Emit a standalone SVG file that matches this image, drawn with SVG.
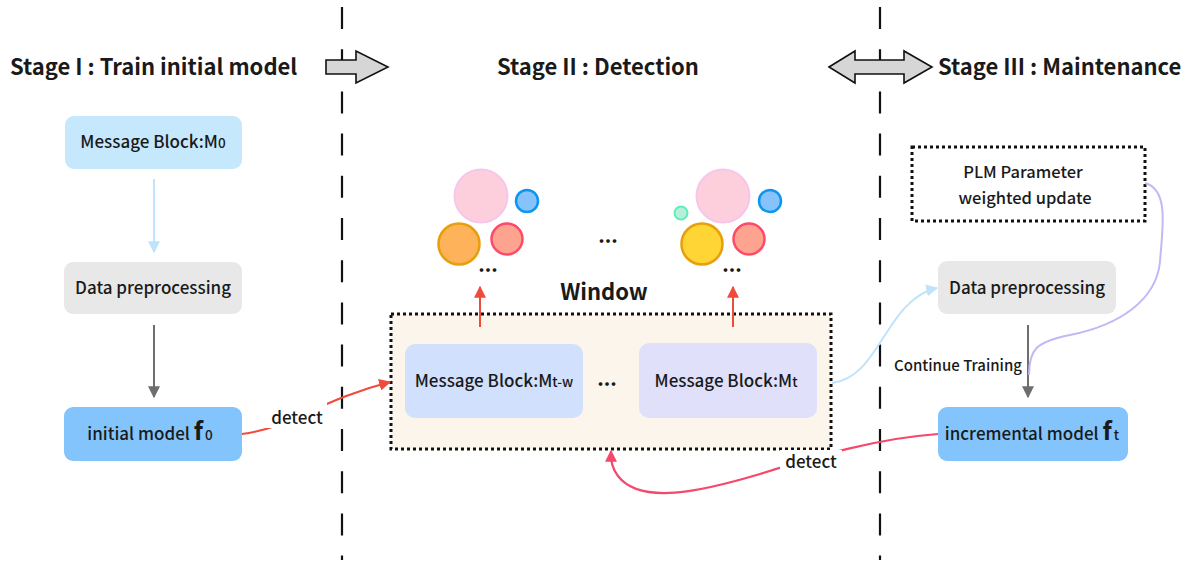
<svg xmlns="http://www.w3.org/2000/svg" width="1192" height="562" viewBox="0 0 1192 562">
<style>
text{font-family:"Noto Sans CJK SC","Noto Sans",sans-serif;fill:#1a1a1a}
.title{font-size:22px;font-weight:700}
.lbl{font-size:17px;font-weight:500}
.small{font-size:16.5px;font-weight:500}
.dots{font-size:20px;font-weight:700}
.sep{stroke:#111;stroke-width:2.2;stroke-dasharray:22 20.2;fill:none}
.dotbox{stroke:#111;stroke-width:3;stroke-dasharray:3 3;}
.bigarrow{fill:#d6d6d6;stroke:#111;stroke-width:1.6;stroke-linejoin:miter}
</style>
<defs>
<marker id="aRed" viewBox="0 0 10 10" refX="9" refY="5" markerWidth="12" markerHeight="12" markerUnits="userSpaceOnUse" orient="auto"><path d="M0,0 L10,5 L0,10 z" fill="#f04a3c"/></marker>
<marker id="aPink" viewBox="0 0 10 10" refX="9" refY="5" markerWidth="12" markerHeight="12" markerUnits="userSpaceOnUse" orient="auto"><path d="M0,0 L10,5 L0,10 z" fill="#f5486c"/></marker>
<marker id="aBlue" viewBox="0 0 10 10" refX="9" refY="5" markerWidth="12" markerHeight="12" markerUnits="userSpaceOnUse" orient="auto"><path d="M0,0 L10,5 L0,10 z" fill="#bfe3fb"/></marker>
<marker id="aGray" viewBox="0 0 10 10" refX="9" refY="5" markerWidth="12" markerHeight="13" markerUnits="userSpaceOnUse" orient="auto"><path d="M0,0 L10,5 L0,10 z" fill="#6e6e6e"/></marker>
</defs>
<rect width="1192" height="562" fill="#fff"/>

<!-- separators -->
<g id="separators">
<line class="sep" x1="342" y1="7" x2="342" y2="560"/>
<line class="sep" x1="880" y1="7" x2="880" y2="560"/>
</g>

<!-- stage arrows -->
<g id="stage-arrows">
<path class="bigarrow" d="M326,60 L356,60 L356,51 L388,67 L356,83 L356,74 L326,74 Z"/>
<path class="bigarrow" d="M829,67 L855,51 L855,60 L904,60 L904,51 L932,67 L904,83 L904,74 L855,74 L855,83 Z"/>
</g>

<!-- titles -->
<g id="titles">
<text class="title" x="10" y="75">Stage I : Train initial model</text>
<text class="title" x="598" y="75" text-anchor="middle">Stage II : Detection</text>
<text class="title" x="938" y="75">Stage III : Maintenance</text>
</g>

<!-- Stage I -->
<g id="node-m0">
<rect x="65" y="116" width="177" height="53" rx="9" fill="#c5e8fd"/>
<text class="lbl" x="153" y="148" text-anchor="middle">Message Block:M<tspan font-size="13.5">0</tspan></text>
</g>
<g id="node-prep1">
<rect x="64" y="262" width="178" height="52" rx="9" fill="#e8e8e8"/>
<text class="lbl" x="153" y="294" text-anchor="middle">Data preprocessing</text>
</g>
<g id="node-f0">
<rect x="64" y="407" width="178" height="54" rx="9" fill="#82c4fb"/>
<text class="lbl" x="150" y="440" text-anchor="middle">initial model <tspan font-size="25" font-weight="700">f</tspan><tspan font-size="13.5" dx="2">0</tspan></text>
</g>

<!-- Window -->
<g id="node-window">
<rect class="dotbox" x="391" y="314" width="440" height="135" fill="#fcf5ec"/>
<text class="title" x="604" y="300" text-anchor="middle">Window</text>
</g>
<g id="node-mtw">
<rect x="405" y="344" width="178" height="74" rx="10" fill="#d1e0fc"/>
<text class="lbl" x="494" y="387" text-anchor="middle">Message Block:M<tspan font-size="13.5">t-w</tspan></text>
</g>
<text class="dots" x="607" y="386" text-anchor="middle">...</text>
<g id="node-mt">
<rect x="639" y="343" width="178" height="75" rx="10" fill="#e0e0fb"/>
<text class="lbl" x="726" y="387" text-anchor="middle">Message Block:M<tspan font-size="13.5">t</tspan></text>
</g>

<!-- circle clusters -->
<g id="cluster-1">
<circle cx="481" cy="196" r="26.5" fill="#fdcfdc" stroke="#f6c6ec" stroke-width="2"/>
<circle cx="527" cy="201" r="11" fill="#86c3fb" stroke="#0d96f0" stroke-width="2.5"/>
<circle cx="459" cy="244" r="20.5" fill="#feb25a" stroke="#e6a00e" stroke-width="2.5"/>
<circle cx="507" cy="239" r="15.5" fill="#ffa391" stroke="#fe4a67" stroke-width="2.5"/>
<text class="dots" x="488" y="272" text-anchor="middle">...</text>
</g>
<text class="dots" x="608" y="243" text-anchor="middle">...</text>
<g id="cluster-2">
<circle cx="681" cy="213" r="6.5" fill="#b6f0da" stroke="#5deebb" stroke-width="2"/>
<circle cx="723" cy="196" r="26.5" fill="#fdcfdc" stroke="#f6c6ec" stroke-width="2"/>
<circle cx="770" cy="201" r="11" fill="#86c3fb" stroke="#0d96f0" stroke-width="2.5"/>
<circle cx="702" cy="244" r="20.5" fill="#fed535" stroke="#e6a00e" stroke-width="2.5"/>
<circle cx="749" cy="239" r="15.5" fill="#ffa391" stroke="#fe4a67" stroke-width="2.5"/>
<text class="dots" x="732" y="272" text-anchor="middle">...</text>
</g>

<!-- Stage III -->
<g id="node-plm">
<rect class="dotbox" x="912" y="147" width="233" height="74" fill="#fff"/>
<text class="small" x="1023" y="178" text-anchor="middle">PLM Parameter</text>
<text class="small" x="1025" y="204" text-anchor="middle">weighted update</text>
</g>
<g id="node-prep2">
<rect x="938" y="261" width="178" height="53" rx="9" fill="#e8e8e8"/>
<text class="lbl" x="1027" y="294" text-anchor="middle">Data preprocessing</text>
</g>
<g id="node-ft">
<rect x="938" y="407" width="190" height="54" rx="9" fill="#82c4fb"/>
<text class="lbl" x="1032" y="440" text-anchor="middle">incremental model <tspan font-size="25" font-weight="700">f</tspan><tspan font-size="13.5" dx="2">t</tspan></text>
</g>

<!-- connectors -->
<g id="connectors" fill="none">
<line x1="154" y1="179" x2="154" y2="252" stroke="#c0e4fb" stroke-width="2" marker-end="url(#aBlue)"/>
<line x1="154" y1="325" x2="154" y2="397" stroke="#6e6e6e" stroke-width="2" marker-end="url(#aGray)"/>
<line x1="1028" y1="325" x2="1028" y2="397" stroke="#6e6e6e" stroke-width="2" marker-end="url(#aGray)"/>
<path d="M242,434 C290,428 320,400 390,382" stroke="#f04a3c" stroke-width="2" marker-end="url(#aRed)"/>
<line x1="480" y1="327" x2="480" y2="287" stroke="#f04a3c" stroke-width="2" marker-end="url(#aRed)"/>
<line x1="733" y1="327" x2="733" y2="287" stroke="#f04a3c" stroke-width="2" marker-end="url(#aRed)"/>
<path d="M832,383 C880,378 885,300 937,288" stroke="#bfe3fb" stroke-width="2" marker-end="url(#aBlue)"/>
<path d="M1145,183 C1170,190 1162,230 1160,262 C1156,300 1120,325 1070,335 C1035,342 1029,350 1029,375" stroke="#c1b9f5" stroke-width="2"/>
<path d="M938,434 C880,438 820,455 760,474 C700,492 640,505 618,476 C612,468 611,462 611,451" stroke="#f5486c" stroke-width="2.2" marker-end="url(#aPink)"/>
</g>

<!-- connector labels -->
<g id="connector-labels">
<rect x="265" y="402" width="62" height="26" fill="#fff"/>
<text class="lbl" x="297" y="424" text-anchor="middle">detect</text>
<rect x="780" y="450" width="62" height="22" fill="#fff"/>
<text class="lbl" x="811" y="468" text-anchor="middle">detect</text>
<text font-size="15" font-weight="500" x="958" y="371" text-anchor="middle">Continue Training</text>
</g>
</svg>
